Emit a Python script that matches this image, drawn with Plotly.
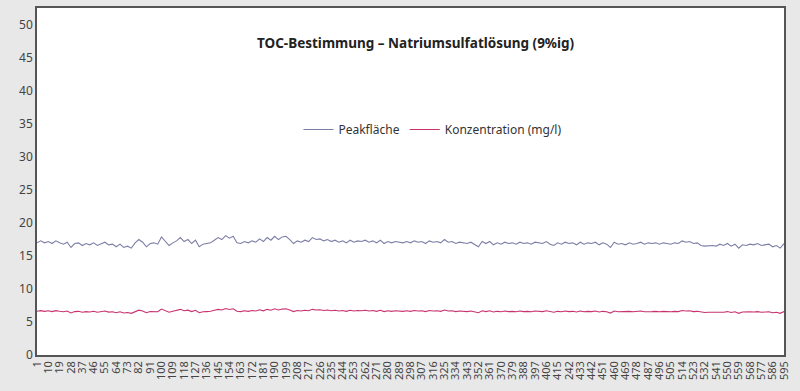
import plotly.graph_objects as go

messung = list(range(1, 596, 3))

peakflaeche = [
    17.0, 17.3, 17.0, 17.2, 16.9, 17.3, 17.0, 16.8, 17.1, 16.3,
    16.9, 17.0, 16.6, 16.9, 16.7, 17.0, 16.6, 16.9, 17.1, 16.7,
    16.8, 16.4, 16.8, 16.3, 16.5, 16.2, 17.0, 17.5, 17.1, 16.4,
    16.9, 17.0, 16.8, 17.9, 17.3, 16.6, 17.0, 17.3, 17.8, 17.2,
    17.5, 16.9, 17.4, 16.4, 16.8, 16.9, 17.0, 17.4, 17.8, 17.5,
    18.1, 17.7, 18.0, 17.0, 16.9, 17.2, 17.0, 17.3, 17.1, 17.6,
    17.2, 17.8, 17.4, 18.0, 17.5, 17.9, 18.0, 17.5, 16.9, 17.3,
    17.1, 17.4, 17.2, 17.8, 17.5, 17.6, 17.3, 17.5, 17.2, 17.4,
    17.1, 17.3, 17.0, 17.4, 17.1, 17.3, 17.2, 17.4, 17.1, 17.3,
    17.0, 17.4, 16.9, 17.2, 17.0, 17.2, 17.1, 17.0, 17.2, 17.0,
    17.3, 17.1, 17.2, 16.9, 17.3, 17.1, 17.2, 17.0, 17.5, 17.1,
    17.2, 16.9, 17.1, 17.0, 16.9, 17.1, 16.8, 16.4, 17.2, 16.9,
    17.2, 16.7, 17.0, 16.8, 17.1, 16.9, 17.0, 16.8, 17.1, 16.9,
    17.0, 16.8, 17.1, 17.0, 16.9, 17.2, 16.8, 16.6, 17.0, 16.8,
    17.1, 16.9, 17.0, 16.7, 17.1, 16.8, 17.0, 16.9, 17.1, 16.7,
    17.0, 16.8, 16.3, 17.1, 16.8, 16.9, 16.7, 17.0, 16.8, 16.9,
    17.1, 16.8, 17.0, 16.9, 17.0, 16.8, 17.0, 16.9, 16.8, 17.0,
    16.9, 17.3, 17.1, 17.2, 16.9, 17.0, 16.6, 16.5, 16.6, 16.6,
    16.5, 16.8, 16.6, 16.9, 16.5, 16.8, 16.2, 16.7, 16.6, 16.8,
    16.7, 16.9, 16.6, 16.7, 16.8, 16.4, 16.6, 16.2, 16.9,
]

konzentration = [
    6.63, 6.72, 6.62, 6.70, 6.58, 6.72, 6.62, 6.55, 6.66, 6.38,
    6.58, 6.62, 6.48, 6.58, 6.52, 6.62, 6.48, 6.58, 6.66, 6.50,
    6.55, 6.40, 6.55, 6.36, 6.44, 6.32, 6.62, 6.80, 6.66, 6.40,
    6.58, 6.62, 6.55, 6.96, 6.74, 6.48, 6.62, 6.74, 6.92, 6.70,
    6.80, 6.58, 6.78, 6.40, 6.55, 6.58, 6.62, 6.78, 6.92, 6.82,
    7.04, 6.90, 7.00, 6.62, 6.58, 6.70, 6.62, 6.74, 6.66, 6.86,
    6.70, 6.92, 6.78, 7.00, 6.82, 6.96, 7.00, 6.82, 6.58, 6.74,
    6.66, 6.78, 6.70, 6.92, 6.82, 6.86, 6.74, 6.82, 6.70, 6.78,
    6.66, 6.74, 6.62, 6.78, 6.66, 6.74, 6.70, 6.78, 6.66, 6.74,
    6.62, 6.78, 6.58, 6.70, 6.62, 6.70, 6.66, 6.62, 6.70, 6.62,
    6.74, 6.66, 6.70, 6.58, 6.74, 6.66, 6.70, 6.62, 6.82, 6.66,
    6.70, 6.58, 6.66, 6.62, 6.58, 6.66, 6.55, 6.40, 6.70, 6.58,
    6.70, 6.52, 6.62, 6.55, 6.66, 6.58, 6.62, 6.55, 6.66, 6.58,
    6.62, 6.55, 6.66, 6.62, 6.58, 6.70, 6.55, 6.48, 6.62, 6.55,
    6.66, 6.58, 6.62, 6.52, 6.66, 6.55, 6.62, 6.58, 6.66, 6.52,
    6.62, 6.55, 6.36, 6.66, 6.55, 6.58, 6.52, 6.62, 6.55, 6.58,
    6.66, 6.55, 6.62, 6.58, 6.62, 6.55, 6.62, 6.58, 6.55, 6.62,
    6.58, 6.74, 6.66, 6.70, 6.58, 6.62, 6.48, 6.44, 6.48, 6.48,
    6.44, 6.55, 6.48, 6.58, 6.44, 6.55, 6.32, 6.52, 6.48, 6.55,
    6.52, 6.58, 6.48, 6.52, 6.55, 6.40, 6.48, 6.32, 6.58,
]

# x tick labels as printed in the original (note "242" where 424 would be)
x_tick_vals = list(range(1, 596, 9))
x_tick_text = [
    "1", "10", "19", "28", "37", "46", "55", "64", "73", "82", "91", "100",
    "109", "118", "127", "136", "145", "154", "163", "172", "181", "190",
    "199", "208", "217", "226", "235", "244", "253", "262", "271", "280",
    "289", "298", "307", "316", "325", "334", "343", "352", "361", "370",
    "379", "388", "397", "406", "415", "242", "433", "442", "451", "460",
    "469", "478", "487", "496", "505", "514", "523", "532", "541", "550",
    "559", "568", "577", "586", "595",
]
y_tick_vals = [0, 5, 10, 15, 20, 25, 30, 35, 40, 45, 50]

title_text = "TOC-Bestimmung – Natriumsulfatlösung (9%ig)"

fig = go.Figure()
fig.add_trace(go.Scatter(
    x=messung, y=peakflaeche, mode="lines", name="Peakfläche",
    line=dict(color="#7d7ea6", width=1.1),
))
fig.add_trace(go.Scatter(
    x=messung, y=konzentration, mode="lines", name="Konzentration (mg/l)",
    line=dict(color="#c8336f", width=1.1),
))

font_family = "Noto Sans, Open Sans, sans-serif"

fig.update_layout(
    width=800, height=391,
    margin=dict(l=37, r=16, t=6, b=36),
    paper_bgcolor="#e8e8e8",
    plot_bgcolor="#ffffff",
    font=dict(family=font_family, color="#333333", size=12),
    showlegend=True,
    legend=dict(
        orientation="h", x=0.35, y=0.65, xanchor="left", yanchor="middle",
        bgcolor="rgba(0,0,0,0)", font=dict(size=12, color="#333333"),
        itemwidth=30,
    ),
    annotations=[dict(
        text="<b>" + title_text + "</b>", x=0.508, y=0.93,
        xref="paper", yref="paper", showarrow=False,
        font=dict(size=13.5, color="#222222", family=font_family),
    )],
)

fig.update_xaxes(
    range=[1, 595], tickmode="array", tickvals=x_tick_vals, ticktext=x_tick_text,
    tickangle=-90, tickfont=dict(size=11, color="#444444"),
    showgrid=False, zeroline=False,
    showline=True, linecolor="#555555", linewidth=1.5, mirror=True,
    ticks="", ticklen=0,
)
fig.update_yaxes(
    range=[0, 52.6], tickmode="array", tickvals=y_tick_vals,
    tickfont=dict(size=12, color="#444444"),
    showgrid=False, zeroline=False,
    showline=True, linecolor="#555555", linewidth=1.5, mirror=True,
    ticks="", ticklen=0,
)

fig.write_html(
    "out.html",
    config={"displayModeBar": False},
    post_script="document.body.style.margin='0';document.body.style.background='#e8e8e8';",
)
